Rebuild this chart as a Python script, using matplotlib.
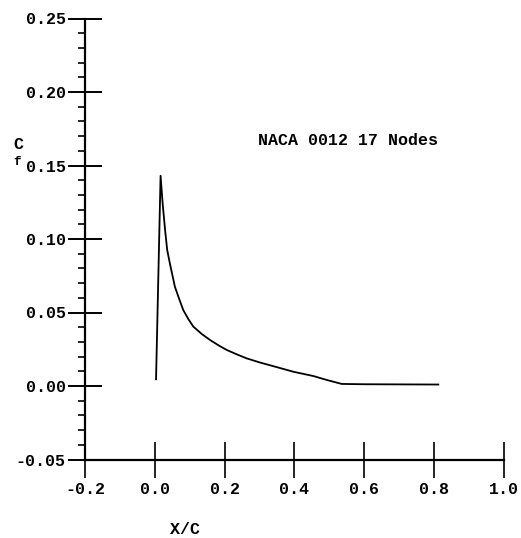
import matplotlib
matplotlib.use("Agg")
import matplotlib.pyplot as plt
from matplotlib.ticker import MultipleLocator

# skin friction distribution
x_c = [0.003, 0.016, 0.022, 0.029, 0.035, 0.043, 0.057, 0.067, 0.081, 0.096, 0.110,
       0.134, 0.158, 0.182, 0.206, 0.234, 0.263, 0.301, 0.350, 0.397, 0.454, 0.493,
       0.536, 0.600, 0.700, 0.813]
c_f = [0.0046, 0.143, 0.124, 0.106, 0.0925, 0.083, 0.0676, 0.0608, 0.0517, 0.0454, 0.0404,
       0.0354, 0.0313, 0.0277, 0.0245, 0.0216, 0.0188, 0.0160, 0.0128, 0.0097, 0.0068, 0.0041,
       0.0014, 0.0012, 0.0011, 0.0010]

x_ticks = [-0.2, 0.0, 0.2, 0.4, 0.6, 0.8, 1.0]
y_ticks = [-0.05, 0.00, 0.05, 0.10, 0.15, 0.20, 0.25]
annotation = "NACA 0012 17 Nodes"

MONO = {"family": "Liberation Mono", "weight": "bold", "size": 12}

W, H = 521, 538
fig = plt.figure(figsize=(W / 100, H / 100), dpi=100)
fig.patch.set_facecolor("white")
ax = fig.add_axes((85.3 / W, (H - 459.5) / H, (503.5 - 85.3) / W, (459.5 - 18.5) / H))

ax.plot(x_c, c_f, color="black", linewidth=1.3)

ax.set_xlim(-0.2, 1.0)
ax.set_ylim(-0.05, 0.25)
ax.set_xticks(x_ticks)
ax.set_yticks(y_ticks)
ax.set_xticklabels([f"{v:.1f}" for v in x_ticks], fontdict=MONO)
ax.set_yticklabels([f"{v:.2f}" for v in y_ticks], fontdict=MONO)
ax.yaxis.set_minor_locator(MultipleLocator(0.01))

for side in ("top", "right"):
    ax.spines[side].set_visible(False)
for side in ("left", "bottom"):
    ax.spines[side].set_linewidth(1.6)

ax.tick_params(axis="y", which="major", direction="inout", length=24, width=1.4, pad=2)
ax.tick_params(axis="y", which="minor", direction="out", length=5, width=1.2)
ax.tick_params(axis="x", which="major", direction="inout", length=26, width=1.2, pad=3)

ax.text(0.296, 0.167, annotation, fontdict=MONO, ha="left", va="center")

fig.text(18 / W, 1 - 145 / H, "C", fontdict=MONO, ha="center", va="center")
fig.text(17 / W, 1 - 162 / H, "f", family="Liberation Mono", weight="bold", size=9,
         ha="center", va="center")
fig.text(185 / W, 1 - 530 / H, "X/C", fontdict=MONO, ha="center", va="center")

fig.savefig("out.png", dpi=100, facecolor="white")
